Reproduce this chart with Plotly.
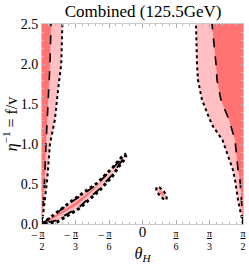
import numpy as np
import plotly.graph_objects as go

PI = np.pi
DARK = "#ff7373"
PINK = "#ffbfc3"

# ---- data (theta_H in radians, y = eta^-1 = f/v) ----
left_dotted_y = [0.0, 0.25, 0.55, 1.0, 1.3, 1.675, 2.0, 2.5]
left_dotted_t = [-1.571, -1.530, -1.490, -1.446, -1.370, -1.320, -1.270, -1.252]
left_dashed_y = [0.0, 0.5, 1.0, 1.5, 2.0, 2.5]
left_dashed_t = [-1.571, -1.532, -1.508, -1.478, -1.446, -1.430]

right_dotted_y = [0.0, 0.3, 0.55, 0.675, 1.05, 1.22, 1.3, 1.39, 1.55, 1.8, 2.0, 2.5]
right_dotted_t = [1.571, 1.493, 1.446, 1.414, 1.250, 1.102, 1.055, 1.008, 0.930, 0.867, 0.852, 0.836]
right_dashed_y = [0.0, 0.3, 0.55, 0.675, 1.05, 1.3, 1.55, 1.8, 2.0, 2.5]
right_dashed_t = [1.571, 1.547, 1.524, 1.493, 1.446, 1.352, 1.227, 1.164, 1.149, 1.086]

diag_dotted_t = [-1.571, -1.446, -1.086, -0.711, -0.461, -0.320, -0.274, -0.262,
                 -0.300, -0.352, -0.477, -0.664, -0.977, -1.336, -1.571]
diag_dotted_y = [0.0, 0.075, 0.30, 0.51, 0.71, 0.84, 0.865, 0.845,
                 0.79, 0.74, 0.59, 0.425, 0.20, 0.025, 0.0]
diag_dashed_t = [-1.560, -1.100, -0.720, -0.480, -0.340, -0.300,
                 -0.330, -0.490, -0.670, -0.980, -1.340, -1.560]
diag_dashed_y = [0.010, 0.28, 0.49, 0.69, 0.81, 0.835,
                 0.78, 0.60, 0.44, 0.22, 0.045, 0.005]
diag_core_t = [-1.550, -1.050, -0.720, -0.530, -0.550, -0.740, -1.020, -1.500]
diag_core_y = [0.010, 0.27, 0.47, 0.62, 0.60, 0.44, 0.24, 0.02]

blob_dotted_t = [0.375, 0.378, 0.333, 0.267, 0.219, 0.216, 0.261, 0.327, 0.375]
blob_dotted_y = [0.3075, 0.3475, 0.409, 0.456, 0.4625, 0.4225, 0.361, 0.314, 0.3075]
blob_core_t = [0.336, 0.316, 0.258, 0.278, 0.336]
blob_core_y = [0.346, 0.396, 0.424, 0.374, 0.346]

x_tickvals = [-PI / 2, -PI / 3, -PI / 6, 0, PI / 6, PI / 3, PI / 2]
x_ticktext = ["<u>π</u><br>2", "<u>π</u><br>3", "<u>π</u><br>6",
              "<span style='font-size:15px'>0</span>",
              "<u>π</u><br>6", "<u>π</u><br>3", "<u>π</u><br>2"]
y_tickvals = [0.0, 0.5, 1.0, 1.5, 2.0, 2.5]
y_ticktext = ["0.0", "0.5", "1.0", "1.5", "2.0", "2.5"]

fig = go.Figure()


def poly(t, y, color):
    fig.add_trace(go.Scatter(x=t, y=y, mode="lines", fill="toself", fillcolor=color,
                             line=dict(width=0), hoverinfo="skip", showlegend=False))


def line(t, y, dash, width):
    fig.add_trace(go.Scatter(x=t, y=y, mode="lines",
                             line=dict(color="black", dash=dash, width=width),
                             hoverinfo="skip", showlegend=False))


# left region
poly([-PI / 2] + left_dotted_t + [-PI / 2], [0.0] + left_dotted_y + [2.5], PINK)
poly([-PI / 2] + left_dashed_t + [-PI / 2], [0.0] + left_dashed_y + [2.5], DARK)
# right region
poly([PI / 2] + right_dotted_t + [PI / 2], [0.0] + right_dotted_y + [2.5], PINK)
poly([PI / 2] + right_dashed_t + [PI / 2], [0.0] + right_dashed_y + [2.5], DARK)
# diagonal band
poly(diag_dotted_t, diag_dotted_y, PINK)
poly(diag_core_t, diag_core_y, DARK)
# blob
poly(blob_dotted_t, blob_dotted_y, PINK)
poly(blob_core_t, blob_core_y, DARK)

line(left_dashed_t, left_dashed_y, "dash", 1.6)
line(left_dotted_t, left_dotted_y, "dot", 2)
line(right_dashed_t, right_dashed_y, "dash", 1.6)
line(right_dotted_t, right_dotted_y, "dot", 2)
line(diag_dashed_t, diag_dashed_y, "dash", 1.8)
line(diag_dotted_t, diag_dotted_y, "dot", 3)
line(blob_dotted_t, blob_dotted_y, "dot", 2.2)

serif = "Liberation Serif"

annotations = []
for v in x_tickvals:
    if v < 0:
        annotations.append(dict(x=v, y=0, xref="x", yref="paper", text="−",
                                showarrow=False, xshift=-8, yshift=-20,
                                font=dict(family=serif, size=12, color="black")))

fig.update_layout(
    width=249, height=264,
    margin=dict(l=42, r=6, t=24, b=40, autoexpand=False),
    paper_bgcolor="white", plot_bgcolor="white",
    title=dict(text="Combined (125.5GeV)", x=0.575, xanchor="center", y=0.982, yanchor="top",
               font=dict(family=serif, size=17, color="black"), automargin=False),
    annotations=annotations,
    xaxis=dict(range=[-PI / 2, PI / 2], tickmode="array", tickvals=x_tickvals, ticktext=x_ticktext,
               tickfont=dict(family=serif, size=10, color="black"), automargin=False,
               ticks="inside", ticklen=4, tickcolor="#aaaaaa", showgrid=False, zeroline=False,
               showline=True, linecolor="#cccccc", linewidth=1, mirror="ticks",
               minor=dict(tickvals=list(np.arange(-15, 16) * PI / 30), ticks="inside",
                          ticklen=2, tickcolor="#bbbbbb"),
               title=dict(text="<i>θ<sub>H</sub></i>", standoff=4,
                          font=dict(family=serif, size=16, color="black"))),
    yaxis=dict(range=[0, 2.5], tickmode="array", tickvals=y_tickvals, ticktext=y_ticktext,
               tickfont=dict(family=serif, size=14, color="black"), automargin=False,
               ticks="inside", ticklen=4, tickcolor="#aaaaaa", showgrid=False, zeroline=False,
               showline=True, linecolor="#cccccc", linewidth=1, mirror="ticks",
               minor=dict(dtick=0.1, ticks="inside", ticklen=2, tickcolor="#bbbbbb"),
               title=dict(text="<i>η</i><sup>−1</sup> = f/v", standoff=2,
                          font=dict(family=serif, size=16, color="black"))),
)

fig.write_html("out.html", config={"displayModeBar": False},
               post_script="document.body.style.margin='0';")
